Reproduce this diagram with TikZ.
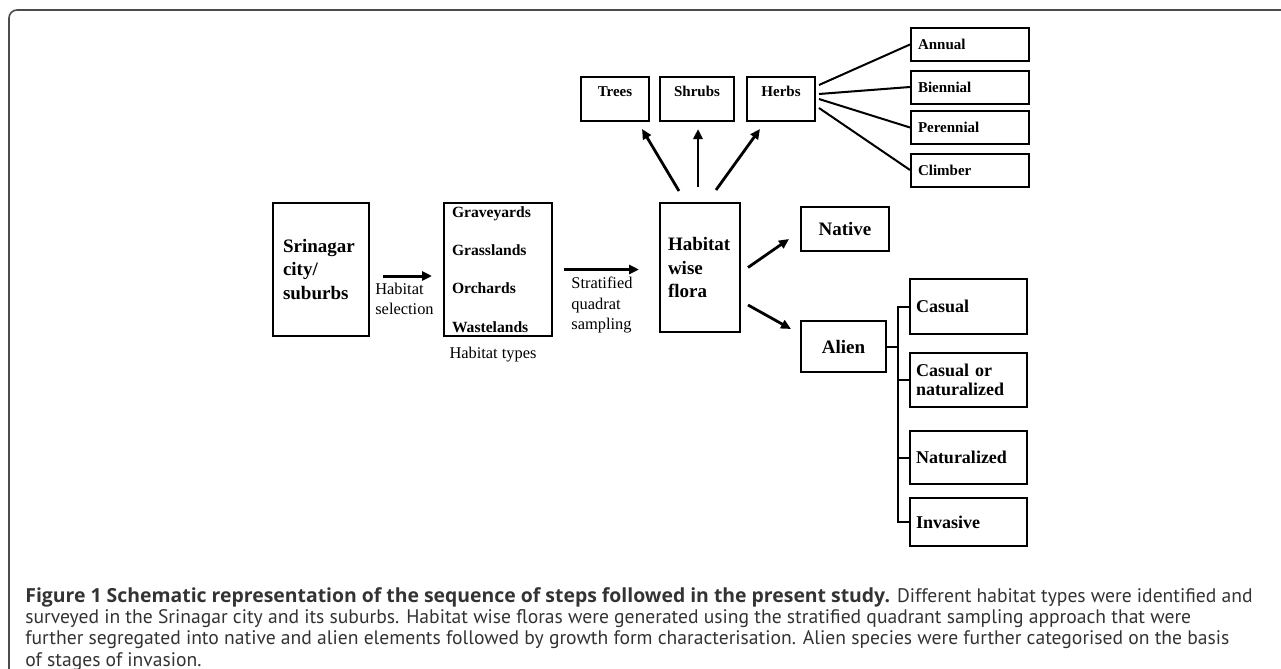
\documentclass[tikz,border=0pt]{standalone}
\usepackage{fontspec}
\setmainfont{Liberation Serif}
\newfontfamily\capfont{PT Sans}
\newfontfamily\capbold{Open Sans}
\usetikzlibrary{arrows.meta,positioning,calc}

\begin{document}
\begin{tikzpicture}[x=0.5pt,y=-0.5pt,
  box/.style={rectangle, draw, line width=1pt, inner sep=0pt},
  bigtxt/.style={font=\fontsize{9.5}{11.75}\selectfont\bfseries},
  midtxt/.style={font=\fontsize{9}{9.5}\selectfont\bfseries},
  smalltxt/.style={font=\fontsize{7.5}{9}\selectfont\bfseries},
  note/.style={font=\fontsize{8.2}{10}\selectfont, align=left, inner sep=3pt},
  growth/.style={box, smalltxt, align=left, text width=52pt, inner xsep=3.5pt, minimum height=16.5pt},
  stage/.style={box, midtxt, align=left, text width=52.5pt, inner xsep=3pt},
  form/.style={box, smalltxt, align=center, text height=10pt, text depth=12pt},
  arr/.style={-{Triangle[length=5pt,width=4.5pt]}, line width=1.5pt},
  link/.style={line width=1pt}
]
\useasboundingbox (0,0) rectangle (1281,669);

% frame
\draw[black!70, line width=0.8pt, rounded corners=4pt] (1281,10) -- (9,10) -- (9,669);

% sampling chain
\node[box, bigtxt, align=left, text width=38pt, inner xsep=5pt, minimum height=66.5pt] (city) at (321,269.5)
  {Srinagar\\city/\\suburbs};
\node[box, align=left, text width=46pt, inner xsep=4pt, minimum height=66.5pt,
  font=\fontsize{7.8}{19.2}\selectfont\bfseries] (types) at (498,269.5)
  {Graveyards\\Grasslands\\Orchards\\Wastelands};
\node[note, align=center] (typelbl) at (493,355) {Habitat types};
\node[box, bigtxt, align=left, text width=32pt, inner xsep=4pt, minimum height=64.5pt] (flora) at (700,267.5)
  {Habitat\\wise\\flora};

\draw[arr, shorten <=6.5pt, shorten >=5.5pt] ([yshift=-3.25pt]city.east) --
  node[note, below, xshift=-1pt] {Habitat\\selection} ([yshift=-3.25pt]types.west);
\draw[arr, shorten <=5.5pt, shorten >=10pt] (types.east) --
  node[note, below, xshift=-2pt, font=\fontsize{8.2}{10.25}\selectfont] {Stratified\\quadrat\\sampling} (types.east -| flora.west);

% growth forms
\node[form, minimum width=34pt] (trees) at (615,99) {Trees};
\node[form, minimum width=37pt] (shrubs) at (697,99) {Shrubs};
\node[form, minimum width=34pt] (herbs) at (781,99) {Herbs};

\draw[arr, line width=1.4pt] ([xshift=-10.5pt,yshift=5.5pt]flora.north) -- ([xshift=13.5pt,yshift=-3.5pt]trees.south);
\draw[arr, line width=1.4pt] ([xshift=-1pt,yshift=7.5pt]flora.north) -- ([xshift=0.5pt,yshift=-3.5pt]shrubs.south);
\draw[arr, line width=1.4pt] ([xshift=8pt,yshift=6pt]flora.north) -- ([xshift=-10.5pt,yshift=-3.5pt]herbs.south);

\node[growth] (annual) at (970,44.5) {Annual};
\node[growth] (biennial) at (970,87) {Biennial};
\node[growth] (perennial) at (970,127.5) {Perennial};
\node[growth] (climber) at (970,170) {Climber};

\foreach \n/\dy in {annual/7, biennial/2.5, perennial/0, climber/-4.5} {
  \draw[link] ([xshift=1.5pt,yshift=\dy pt]herbs.east) -- (\n.west);
}

% origin
\node[box, bigtxt, minimum width=44pt, minimum height=22pt] (native) at (845,229) {Native};
\node[box, bigtxt, minimum width=42.5pt, minimum height=25.5pt] (alien) at (843.5,346.5) {Alien};

\draw[arr, line width=1.4pt] ([xshift=3.5pt]flora.east) -- ([xshift=-5.5pt,yshift=-5pt]native.west);
\draw[arr, line width=1.4pt] ([xshift=3.5pt,yshift=-18.75pt]flora.east) -- ([xshift=-4.5pt,yshift=8.75pt]alien.west);

% stages of invasion
\node[stage, minimum height=27.5pt] (casual) at (968.5,306.5) {Casual};
\node[stage, minimum height=27pt] (casnat) at (968.5,380) {Casual or\\naturalized};
\node[stage, minimum height=26.5pt] (natur) at (968.5,457.5) {Naturalized};
\node[stage, minimum height=24pt] (invasive) at (968.5,522) {Invasive};

\coordinate (trunk) at (898,0);
\draw[link] (alien.east) -- (alien.east -| trunk);
\draw[link] (casual.west) -- (casual.west -| trunk) |- (invasive.west);
\foreach \n in {casnat, natur} {
  \draw[link] (\n.west) -- (\n.west -| trunk);
}

% caption
\node[anchor=north west, inner sep=0pt, align=left, text=black!80,
  font=\capfont\fontsize{9.8}{10.65}\selectfont] (caption) at (25,587)
  {{\capbold\fontsize{9.7}{10.65}\selectfont\bfseries Figure 1 Schematic representation of the sequence of steps followed in the present study.} Different habitat types were identified and\\
   surveyed in the Srinagar city and its suburbs. Habitat wise floras were generated using the stratified quadrant sampling approach that were\\
   further segregated into native and alien elements followed by growth form characterisation. Alien species were further categorised on the basis\\
   of stages of invasion.};
\end{tikzpicture}
\end{document}
